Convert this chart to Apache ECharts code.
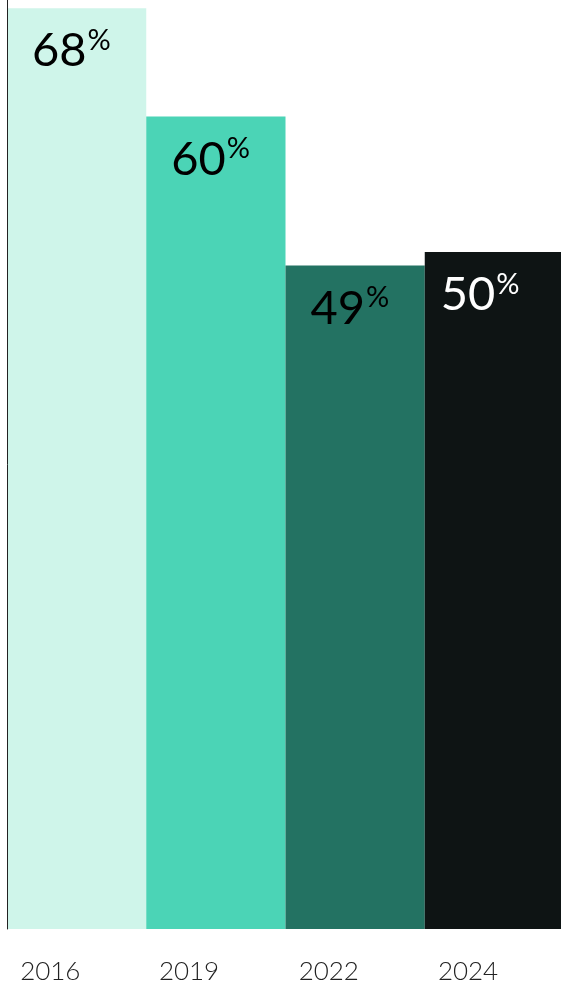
<!DOCTYPE html>
<html>
<head>
<meta charset="utf-8">
<script src="https://cdn.jsdelivr.net/npm/echarts@6/dist/echarts.min.js"></script>
<style>
html,body{margin:0;padding:0;background:#fff;overflow:hidden;}
#chart{width:561px;height:985px;}
</style>
</head>
<body>
<div id="chart"></div>
<script>
const categories = ['2016', '2019', '2022', '2024'];
const values = [68, 60, 49, 50];
const barColors = ['#cff5ea', '#4bd4b6', '#237262', '#0e1414'];
const labelColors = ['#000000', '#000000', '#000000', '#ffffff'];
const labelOffsetX = [25, 25, 25, 16];
const yearWidths = [113, 114, 113, 113];

const chart = echarts.init(document.getElementById('chart'), null, {renderer: 'canvas'});

const data = values.map((v, i) => ({
  value: v,
  itemStyle: {color: barColors[i]},
  label: {
    position: [labelOffsetX[i], 18],
    rich: {
      n: {fontSize: 47, color: labelColors[i], fontFamily: 'Lato', lineHeight: 50},
      p: {fontSize: 29, color: labelColors[i], fontFamily: 'Lato', verticalAlign: 'top', lineHeight: 30, padding: [0, 0, 0, 1]}
    }
  }
}));

const yearRich = {};
yearWidths.forEach((w, i) => {
  yearRich['a' + i] = {width: w, align: 'left', fontSize: 26, fontFamily: 'Lato', fontWeight: 300, color: '#222222'};
});

chart.setOption({
  animation: false,
  grid: {left: 7, right: -3, top: 0, bottom: 56, containLabel: false, outerBoundsMode: 'none'},
  xAxis: {
    type: 'category',
    data: categories,
    axisLine: {show: false},
    axisTick: {show: false},
    axisLabel: {
      interval: 0,
      margin: 30,
      formatter: function (v, i) { return '{a' + i + '|' + v + '}'; },
      rich: yearRich
    }
  },
  yAxis: {
    type: 'value',
    min: 0,
    max: 68.6,
    z: 5,
    axisLine: {show: true, lineStyle: {color: '#222222', width: 1}},
    axisTick: {show: false},
    axisLabel: {show: false},
    splitLine: {show: false}
  },
  series: [{
    type: 'bar',
    data: data,
    barCategoryGap: 0,
    barGap: 0,
    label: {
      show: true,
      formatter: function (p) { return '{n|' + p.value + '}{p|%}'; }
    }
  }]
});
</script>
</body>
</html>
